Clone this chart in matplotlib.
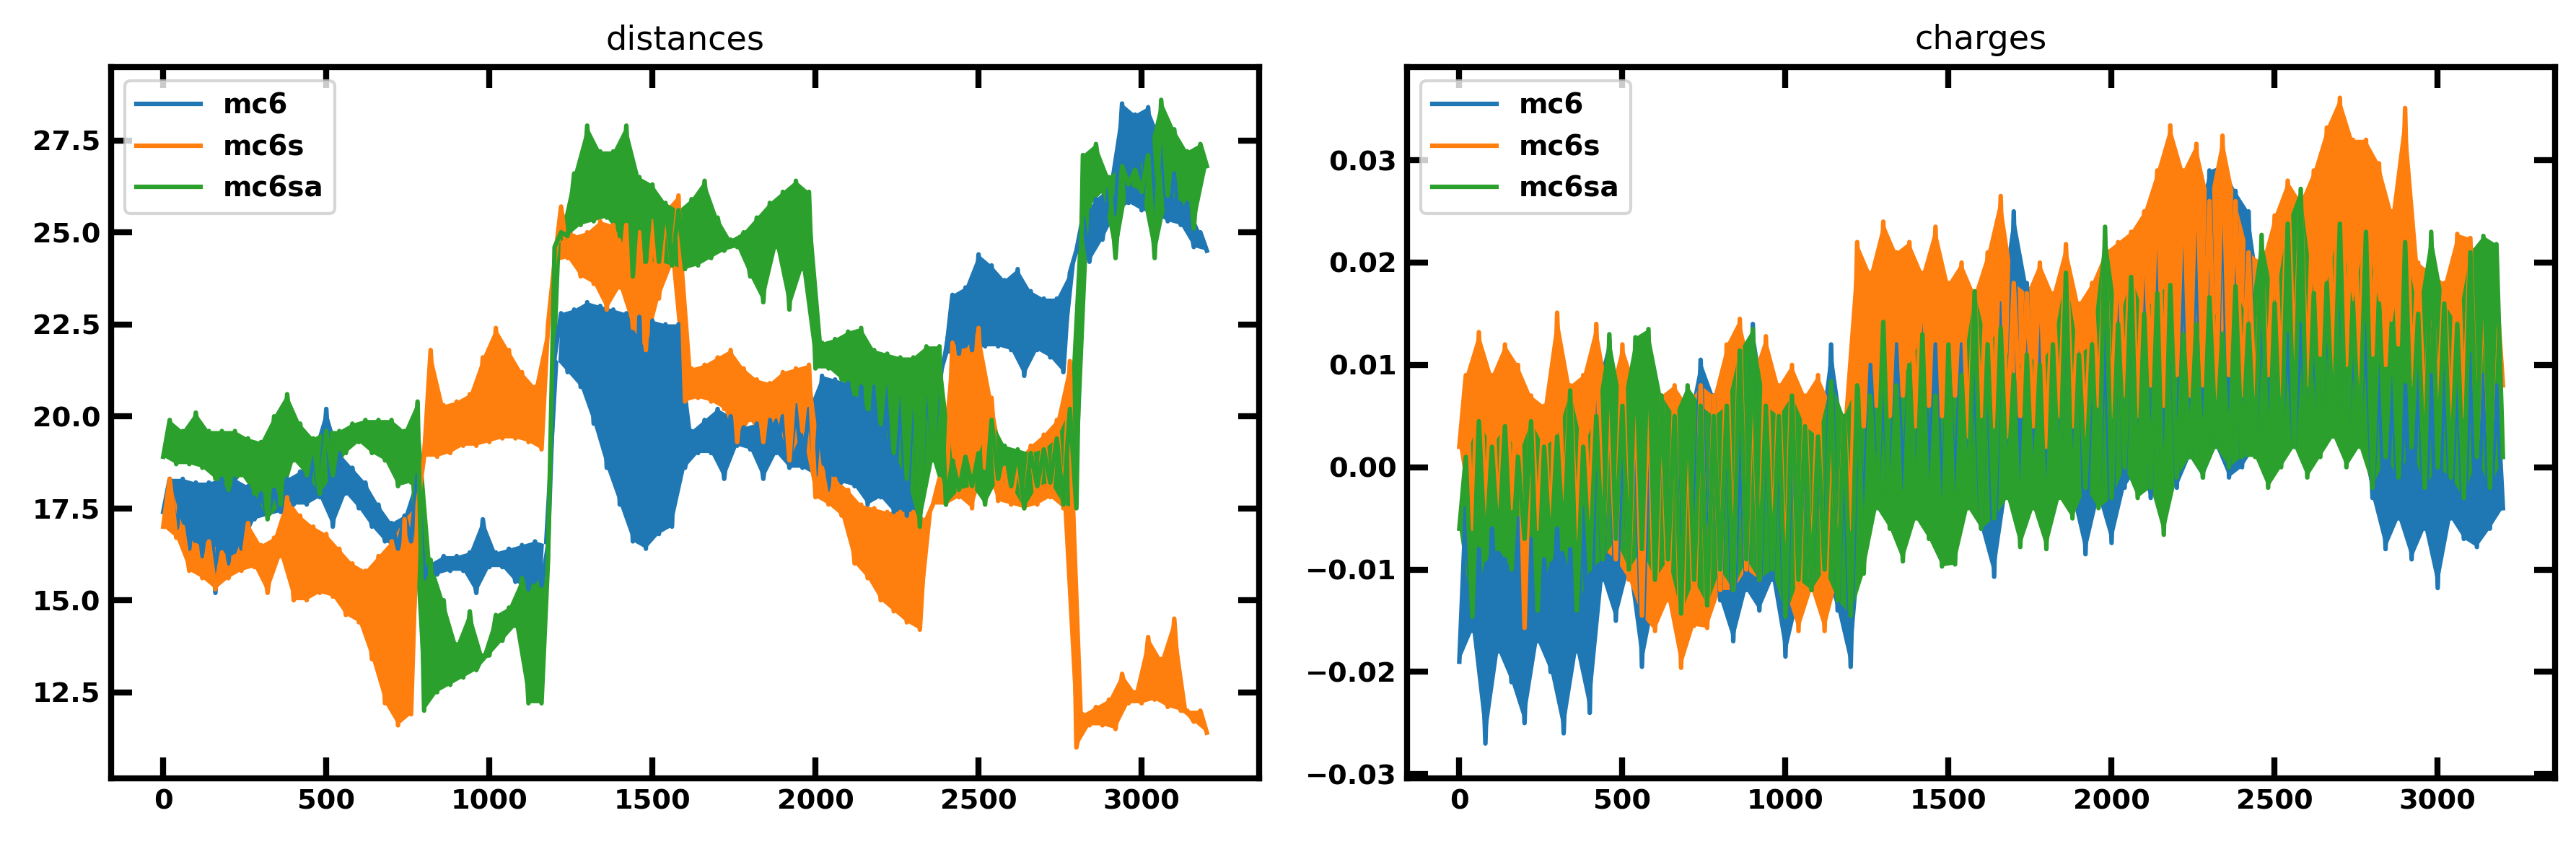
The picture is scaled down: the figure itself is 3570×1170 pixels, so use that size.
import matplotlib
matplotlib.use("Agg")
import matplotlib.pyplot as plt
import numpy as np

labels = ["mc6", "mc6s", "mc6sa"]
colors = ["C0", "C1", "C2"]

# frames: low readings at 0,40,...,3200 and high readings at 20,60,...,3180
x_lo = np.arange(0, 3201, 40)
x_hi = np.arange(20, 3200, 40)

# ---- distances ----
dist_mc6_lo = [17.4, 16.8, 16.4, 16.2, 15.2, 16.0, 16.4, 17.2, 17.3, 17.4, 17.6,
               17.6, 17.8, 17.0, 17.9, 17.5, 17.0, 16.6, 16.4, 16.6, 15.6,
               15.7, 15.8, 15.8, 15.2, 15.9, 15.9, 15.5, 15.3, 15.4, 21.6,
               21.2, 20.8, 19.8, 18.6, 17.6, 16.6, 16.4, 16.8, 17.0, 18.6,
               19.0, 19.0, 18.3, 19.2, 19.1, 18.3, 19.0, 18.6, 18.6, 18.4,
               18.0, 18.2, 18.1, 17.6, 17.8, 17.4, 17.3, 17.3, 19.0, 21.7,
               21.7, 21.8, 21.9, 21.9, 21.8, 21.1, 21.8, 21.6, 21.2, 24.5,
               24.2, 24.8, 25.5, 25.8, 25.6, 25.5, 25.3, 25.2, 24.6, 24.5]
dist_mc6_hi = [18.3, 18.3, 18.2, 18.2, 18.3, 18.3, 18.1, 17.9, 18.0, 18.3,
               18.5, 19.0, 20.2, 19.0, 18.6, 18.2, 17.6, 17.1, 17.3, 18.4,
               16.0, 16.2, 16.2, 16.3, 17.2, 16.3, 16.4, 16.5, 16.6, 16.5,
               22.8, 22.9, 23.1, 23.0, 22.9, 22.8, 22.7, 22.6, 22.5, 22.5,
               19.6, 19.9, 20.2, 20.0, 19.7, 19.8, 19.9, 20.0, 20.3, 20.2,
               21.1, 21.0, 20.9, 20.8, 20.8, 20.8, 20.9, 21.0, 21.1, 21.1,
               23.3, 23.5, 24.4, 24.1, 23.7, 24.0, 23.4, 23.2, 23.2, 23.9,
               25.4, 25.9, 26.2, 28.5, 28.2, 28.4, 27.5, 26.6, 25.8, 25.0]

dist_mc6s_lo = [17.0, 16.7, 15.8, 15.6, 15.3, 15.6, 15.8, 15.9, 15.2, 16.2, 15.0,
                15.0, 15.2, 15.1, 14.6, 14.4, 13.4, 12.2, 11.6, 11.9, 18.9,
                18.9, 19.0, 19.2, 19.2, 19.3, 19.4, 19.4, 19.3, 19.1, 24.2,
                24.3, 23.8, 23.6, 22.9, 23.5, 22.4, 21.8, 23.2, 24.1, 20.4,
                20.5, 20.4, 20.2, 19.3, 19.9, 19.3, 20.0, 18.8, 19.6, 17.8,
                17.6, 17.3, 16.0, 15.6, 15.0, 14.7, 14.4, 14.2, 17.6, 17.6,
                17.8, 17.5, 18.6, 17.7, 17.6, 17.5, 17.6, 17.8, 17.5, 11.0,
                11.6, 11.6, 11.5, 12.2, 12.2, 12.3, 12.1, 12.0, 11.7, 11.4]
dist_mc6s_hi = [18.3, 17.0, 16.5, 16.6, 16.3, 16.2, 17.1, 16.5, 16.7, 17.8,
                17.3, 17.0, 16.8, 16.4, 16.0, 15.8, 16.2, 16.6, 17.2, 17.6,
                21.8, 20.3, 20.4, 20.6, 21.6, 22.4, 21.8, 21.2, 20.8, 22.5,
                25.7, 24.9, 25.0, 25.3, 25.2, 25.2, 25.0, 25.3, 25.6, 26.0,
                21.3, 21.4, 21.6, 21.8, 21.3, 21.0, 20.9, 21.2, 21.3, 21.4,
                18.6, 18.3, 18.0, 17.6, 17.5, 17.4, 17.4, 17.4, 17.2, 18.3,
                22.0, 21.8, 22.4, 20.5, 18.6, 18.8, 19.2, 19.5, 19.9, 21.5,
                11.9, 12.1, 12.3, 13.0, 12.5, 14.0, 13.4, 14.5, 12.0, 12.0]

dist_mc6sa_lo = [18.9, 18.7, 18.7, 18.6, 18.3, 18.0, 18.4, 17.9, 17.2, 17.6, 18.8,
                 18.4, 17.9, 18.4, 19.0, 19.3, 19.0, 18.8, 18.1, 18.2, 12.0,
                 12.5, 12.7, 12.9, 13.1, 13.5, 13.9, 14.3, 12.2, 12.2, 24.6,
                 24.9, 25.2, 25.3, 25.4, 24.9, 23.8, 24.2, 24.2, 24.1, 24.0,
                 24.1, 24.3, 24.5, 24.6, 23.8, 23.1, 24.6, 22.9, 24.0, 21.3,
                 21.3, 21.0, 20.6, 20.2, 19.8, 19.0, 18.3, 17.0, 18.8, 17.6,
                 18.0, 18.1, 17.6, 18.3, 18.1, 17.5, 18.1, 18.2, 17.6, 17.5,
                 25.7, 26.1, 24.3, 26.3, 26.1, 24.3, 26.0, 25.9, 25.1, 26.8]
dist_mc6sa_hi = [19.9, 19.6, 20.1, 19.6, 19.6, 19.6, 19.4, 19.3, 20.0, 20.6,
                 19.8, 19.4, 19.6, 19.6, 19.8, 19.9, 19.9, 19.9, 19.6, 20.4,
                 16.1, 15.0, 13.8, 14.7, 13.5, 14.6, 14.8, 15.6, 15.4, 16.1,
                 25.0, 26.6, 27.9, 27.2, 27.2, 27.9, 26.5, 26.3, 25.8, 25.6,
                 25.9, 26.4, 25.4, 24.8, 25.0, 25.4, 25.8, 26.1, 26.4, 26.1,
                 22.0, 22.1, 22.3, 22.4, 21.8, 21.7, 21.6, 21.6, 21.9, 21.9,
                 18.8, 18.9, 19.0, 19.9, 19.2, 19.1, 19.0, 19.1, 19.4, 20.2,
                 27.1, 27.4, 26.5, 26.8, 26.7, 27.1, 28.6, 27.8, 27.2, 27.4]

# ---- charges ----
chg_mc6_lo = [-0.019, -0.016, -0.027, -0.018, -0.021, -0.025, -0.017, -0.020, -0.026, -0.018, -0.024,
              -0.011, -0.015, -0.010, -0.0195, -0.013, -0.010, -0.012, -0.008, -0.011, -0.013,
              -0.017, -0.012, -0.014, -0.011, -0.0185, -0.013, -0.012, -0.010, -0.014, -0.0195,
              -0.005, -0.003, -0.004, -0.002, -0.004, -0.002, -0.004, -0.003, -0.001, -0.006,
              -0.0107, -0.002, -0.003, -0.001, -0.004, -0.002, -0.003, -0.0085, -0.003, -0.0074,
              -0.002, 0.000, -0.003, 0.001, -0.002, 0.001, -0.001, 0.002, -0.001, 0.000,
              0.002, 0.004, 0.003, 0.002, 0.004, 0.003, 0.005, 0.002, 0.004, -0.003,
              -0.008, -0.005, -0.009, -0.006, -0.0118, -0.005, -0.007, -0.0078, -0.006, -0.004]
chg_mc6_hi = [-0.004, -0.008, -0.006, -0.009, -0.005, -0.007, -0.009, -0.006, -0.008, -0.004,
              0.0075, 0.0125, 0.004, 0.006, 0.003, 0.005, 0.006, 0.004, 0.0105, 0.007,
              0.007, 0.004, 0.014, 0.006, 0.004, 0.005, 0.003, 0.002, 0.012, 0.003,
              0.006, 0.010, 0.008, 0.012, 0.009, 0.018, 0.012, 0.010, 0.012, 0.010,
              0.011, 0.016, 0.025, 0.018, 0.016, 0.014, 0.018, 0.015, 0.012, 0.014,
              0.017, 0.020, 0.023, 0.021, 0.016, 0.022, 0.024, 0.029, 0.0295, 0.027,
              0.025, 0.016, 0.014, 0.013, 0.014, 0.012, 0.015, 0.0205, 0.012, 0.014,
              0.010, 0.009, 0.008, 0.011, 0.009, 0.012, 0.010, 0.011, 0.009, 0.008]

chg_mc6s_lo = [0.002, -0.006, -0.005, -0.007, -0.004, -0.0157, -0.006, -0.008, -0.005, -0.007, -0.006,
               -0.008, -0.009, -0.011, -0.0145, -0.016, -0.013, -0.0196, -0.0155, -0.0157, -0.012,
               -0.012, -0.010, -0.011, -0.009, -0.012, -0.016, -0.012, -0.016, -0.011, -0.006,
               0.004, 0.006, 0.005, 0.007, 0.004, 0.006, 0.005, 0.007, 0.003, 0.005,
               0.004, 0.003, 0.005, 0.004, 0.002, 0.005, 0.004, 0.003, 0.006, 0.005,
               0.007, 0.005, 0.008, 0.006, 0.009, 0.007, 0.008, 0.006, 0.009, 0.007,
               0.006, 0.009, 0.007, 0.010, 0.008, 0.011, 0.009, 0.010, 0.008, 0.011,
               0.010, 0.012, 0.008, 0.004, 0.006, 0.003, 0.005, 0.002, 0.000, 0.008]
chg_mc6s_hi = [0.009, 0.0132, 0.009, 0.012, 0.010, 0.007, 0.006, 0.0151, 0.008, 0.009,
               0.014, 0.007, 0.012, 0.008, 0.009, 0.007, 0.008, 0.006, 0.008, 0.007,
               0.012, 0.0145, 0.009, 0.0128, 0.008, 0.010, 0.007, 0.009, 0.006, 0.005,
               0.022, 0.019, 0.024, 0.021, 0.022, 0.019, 0.0235, 0.018, 0.020, 0.017,
               0.021, 0.0265, 0.018, 0.017, 0.020, 0.017, 0.0218, 0.016, 0.018, 0.021,
               0.022, 0.023, 0.025, 0.029, 0.0334, 0.029, 0.0316, 0.026, 0.0324, 0.026,
               0.021, 0.020, 0.0246, 0.028, 0.026, 0.029, 0.0332, 0.0361, 0.032, 0.032,
               0.0297, 0.025, 0.0351, 0.020, 0.019, 0.018, 0.0228, 0.0224, 0.018, 0.0174]

chg_mc6sa_lo = [-0.006, -0.0146, -0.009, -0.008, -0.010, -0.007, -0.014, -0.009, -0.008, -0.014, -0.010,
                -0.009, -0.007, -0.010, -0.008, -0.011, -0.009, -0.0143, -0.011, -0.0135, -0.010,
                -0.012, -0.009, -0.011, -0.010, -0.0146, -0.011, -0.012, -0.010, -0.013, -0.0145,
                -0.0104, -0.004, -0.006, -0.0092, -0.005, -0.007, -0.0097, -0.0095, -0.004, -0.006,
                -0.005, -0.003, -0.0078, -0.004, -0.008, -0.003, -0.005, -0.002, -0.004, -0.003,
                0.000, -0.003, -0.002, -0.0066, -0.001, 0.001, -0.001, 0.002, 0.000, 0.001,
                0.001, -0.002, 0.000, 0.002, -0.001, 0.001, 0.003, 0.000, 0.002, -0.002,
                0.001, -0.001, 0.002, -0.002, 0.000, -0.001, -0.003, 0.001, -0.002, 0.001]
chg_mc6sa_hi = [0.001, 0.0045, 0.002, 0.004, 0.001, 0.0045, 0.002, 0.003, 0.0075, 0.002,
                0.005, 0.013, 0.006, 0.0127, 0.0135, 0.007, 0.005, 0.008, 0.006, 0.005,
                0.006, 0.0114, 0.0135, 0.006, 0.005, 0.007, 0.004, 0.003, 0.0084, 0.005,
                0.008, 0.007, 0.0142, 0.008, 0.010, 0.013, 0.007, 0.012, 0.009, 0.0172,
                0.012, 0.0136, 0.009, 0.011, 0.010, 0.012, 0.019, 0.011, 0.012, 0.0235,
                0.014, 0.0186, 0.015, 0.017, 0.0178, 0.013, 0.014, 0.0166, 0.013, 0.0177,
                0.014, 0.0227, 0.016, 0.0238, 0.0272, 0.017, 0.018, 0.0238, 0.016, 0.023,
                0.016, 0.014, 0.022, 0.015, 0.023, 0.016, 0.014, 0.021, 0.0226, 0.0218]

dist = [(dist_mc6_lo, dist_mc6_hi), (dist_mc6s_lo, dist_mc6s_hi), (dist_mc6sa_lo, dist_mc6sa_hi)]
chg = [(chg_mc6_lo, chg_mc6_hi), (chg_mc6s_lo, chg_mc6s_hi), (chg_mc6sa_lo, chg_mc6sa_hi)]


def zigzag(lo, hi):
    # put the low and high readings back in frame order
    xs = np.empty(len(x_lo) + len(x_hi))
    ys = np.empty(len(xs))
    xs[0::2] = x_lo
    xs[1::2] = x_hi
    ys[0::2] = lo
    ys[1::2] = hi
    return xs, ys


plt.rcParams['font.family'] = 'DejaVu Sans'
plt.rcParams['font.weight'] = 'bold'

fig, axes = plt.subplots(1, 2, figsize=(11.9, 3.9), dpi=300)
fig.subplots_adjust(left=0.0431, right=0.9919, bottom=0.0778, top=0.9205, wspace=0.129)

for ax, data, title in zip(axes, [dist, chg], ["distances", "charges"]):
    for (lo, hi), lab, c in zip(data, labels, colors):
        # the band the fast oscillation fills, high readings on top, low ones below
        ax.fill(np.r_[x_hi, x_lo[::-1]], np.r_[hi, lo[::-1]], color=c, lw=0)
        xs, ys = zigzag(lo, hi)
        ax.plot(xs, ys, color=c, lw=1.5, label=lab)
    ax.set_title(title, fontsize=11.1, fontweight='normal')
    ax.tick_params(direction='in', length=7, width=2, top=True, right=True,
                   labelsize=9.2, pad=3.5)
    for sp in ax.spines.values():
        sp.set_linewidth(2)
    ax.legend(loc='upper left', handlelength=2.3, prop={'weight': 'bold', 'size': 9.3})
    ax.set_xlim(-160, 3360)
    ax.set_xticks([0, 500, 1000, 1500, 2000, 2500, 3000])

axes[0].set_ylim(10.16, 29.49)
axes[0].set_yticks([12.5, 15.0, 17.5, 20.0, 22.5, 25.0, 27.5])
axes[1].set_ylim(-0.0304, 0.0391)
axes[1].set_yticks([-0.03, -0.02, -0.01, 0.0, 0.01, 0.02, 0.03])

fig.savefig("out.png", dpi=300)
